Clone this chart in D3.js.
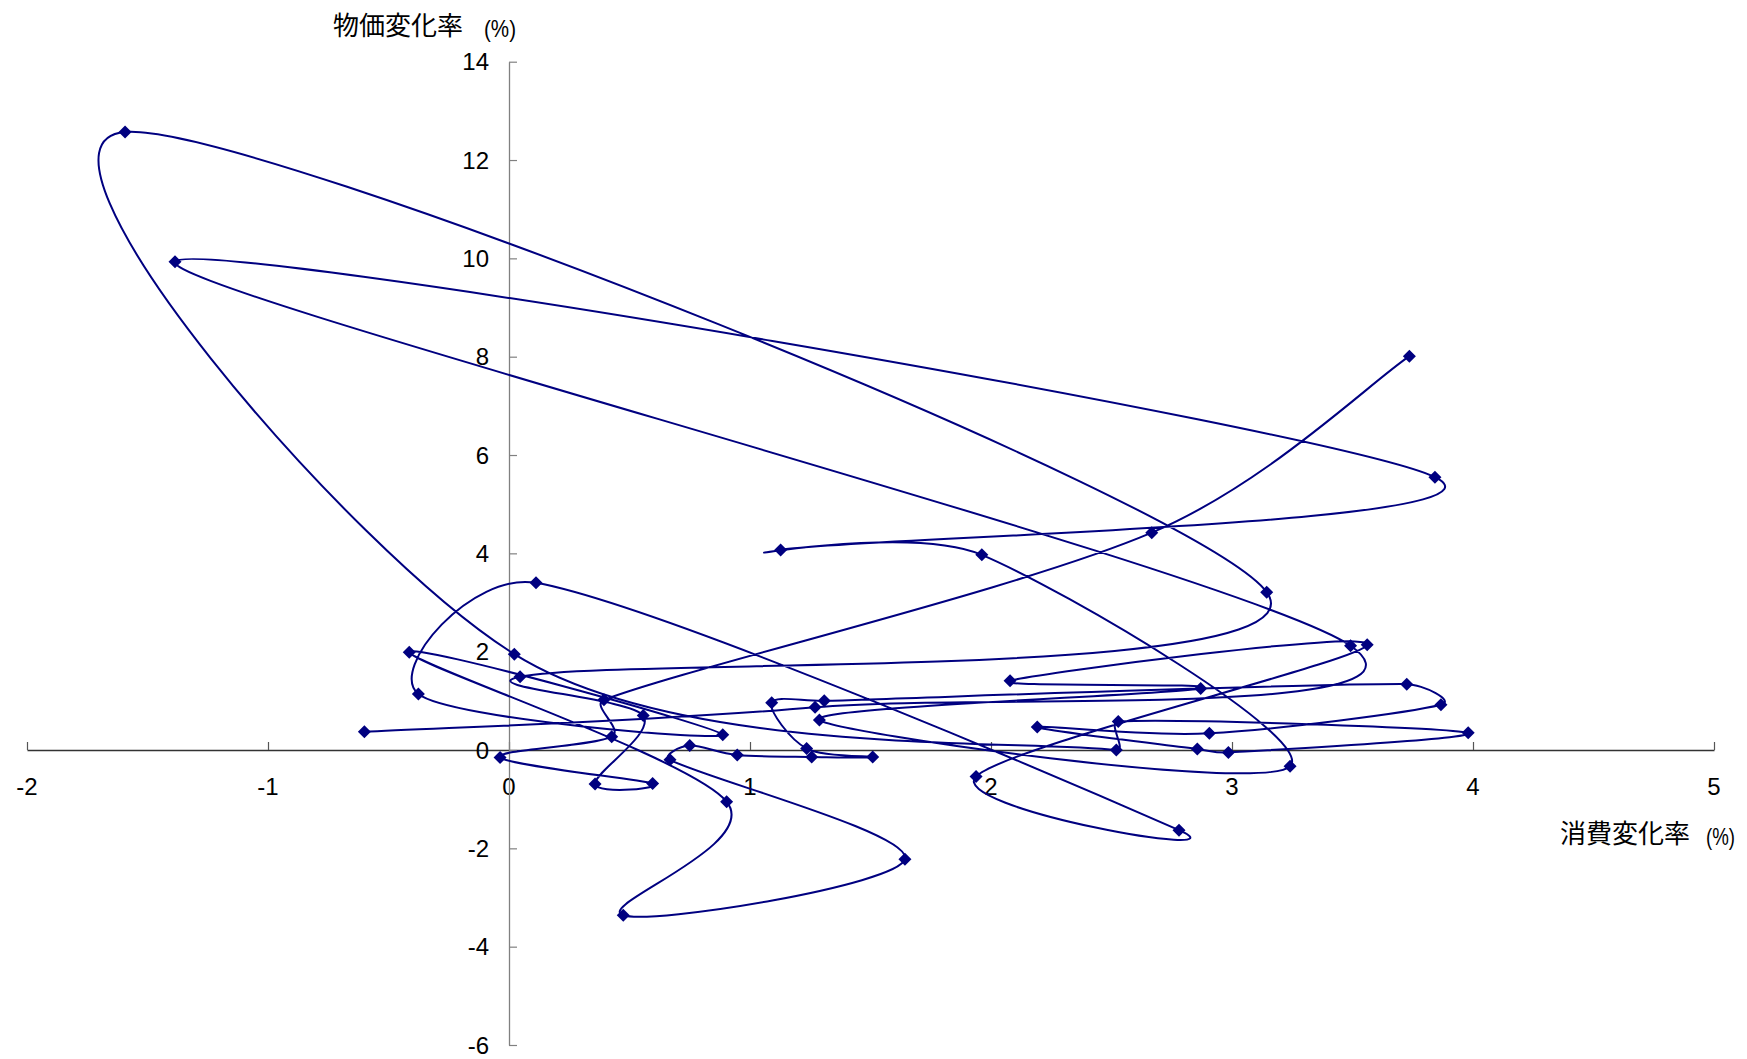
<!DOCTYPE html>
<html><head><meta charset="utf-8">
<script src="https://cdn.jsdelivr.net/npm/d3@7"></script>
<style>
body{margin:0;background:#fff}
svg{display:block}
.num{font-family:"Liberation Sans",Arial,sans-serif;font-size:24px;fill:#000}
.ttl{font-family:"Noto Sans CJK JP","Noto Sans CJK SC",sans-serif;font-size:26px;fill:#000}
.unit{font-family:"Liberation Sans",Arial,sans-serif;font-size:24px;fill:#000}
</style>
</head><body>
<svg id="c" width="1747" height="1059"></svg>
<script>
// consumption change rate (%) and price change rate (%), in path order
const consumption=[-0.600,1.270,3.492,-1.386,3.842,1.127,1.962,3.241,1.288,2.870,
2.079,3.561,1.938,2.780,0.112,-0.376,0.887,-0.414,0.903,0.474,
1.643,0.668,0.750,0.947,1.256,1.509,1.235,1.090,1.308,3.725,
3.867,2.906,2.192,2.856,2.985,3.980,2.528,2.520,0.022,-1.593,
3.144,0.046,0.557,0.357,0.596,-0.037,0.426,0.394,2.667,3.736];
const prices=[0.37,0.87,2.12,9.93,5.55,4.07,3.97,-0.33,0.61,1.25,
1.41,2.14,-0.54,-1.63,3.40,1.14,0.31,1.99,-1.05,-3.36,
-2.22,-0.20,0.09,-0.10,-0.14,-0.14,0.03,0.96,1.00,1.34,
0.92,0.34,0.47,0.02,-0.05,0.35,0.58,0.00,1.95,12.57,
3.21,1.49,0.70,-0.69,-0.68,-0.15,0.27,1.02,4.42,8.01];
const xTicks=[-2,-1,0,1,2,3,4,5];
const yTicks=[-6,-4,-2,0,2,4,6,8,10,12,14];
const xTitle="消費変化率", yTitle="物価変化率", unitLabel="(%)";

const svg=d3.select("#c");
const x=d3.scaleLinear().domain([-2,5]).range([27,1714]);
const y=d3.scaleLinear().domain([-6,14]).range([1045,61.7]);

// x axis (ticks upward)
const gx=svg.append("g").attr("transform",`translate(0,${y(0)})`)
  .call(d3.axisTop(x).tickValues(xTicks).tickSize(8).tickSizeOuter(0).tickFormat(""));
gx.select(".domain").attr("stroke","#333").attr("stroke-width",1.3);
gx.selectAll(".tick line").attr("stroke","#555").attr("stroke-width",1.2);
svg.append("g").selectAll("text").data(xTicks).join("text").attr("class","num")
  .attr("x",d=>x(d)).attr("y",y(0)+36).attr("text-anchor","middle").attr("dominant-baseline","central")
  .text(d=>d);

// y axis (ticks to the right)
const gy=svg.append("g").attr("transform",`translate(${x(0)},0)`)
  .call(d3.axisRight(y).tickValues(yTicks).tickSize(8).tickSizeOuter(0).tickFormat(""));
gy.select(".domain").attr("stroke","#808080").attr("stroke-width",1.3);
gy.selectAll(".tick line").attr("stroke","#808080").attr("stroke-width",1.2);
svg.append("g").selectAll("text").data(yTicks).join("text").attr("class","num")
  .attr("x",x(0)-20).attr("y",d=>y(d)).attr("text-anchor","end").attr("dominant-baseline","central")
  .text(d=>d);

// titles
svg.append("text").attr("class","ttl").attr("x",333).attr("y",35).text(yTitle);
svg.append("text").attr("class","unit").attr("x",484).attr("y",37)
  .attr("textLength",32).attr("lengthAdjust","spacingAndGlyphs").text(unitLabel);
svg.append("text").attr("class","ttl").attr("x",1560).attr("y",843).text(xTitle);
svg.append("text").attr("class","unit").attr("x",1706).attr("y",845)
  .attr("textLength",29).attr("lengthAdjust","spacingAndGlyphs").text(unitLabel);

// data: smoothed line (Catmull-Rom style Bezier with tangent limiting, like spreadsheet smoothing)
const pts=consumption.map((c,i)=>[c,prices[i]]);
const P=pts.map(d=>[x(d[0]),y(d[1])]);
const n=P.length, K=0.4;
const T=P.map((p,i)=>{const a=P[Math.max(0,i-1)], b=P[Math.min(n-1,i+1)];return [(b[0]-a[0])/6,(b[1]-a[1])/6];});
const lim=(v,m)=>{const L=Math.hypot(v[0],v[1]);return L>m&&L>0?[v[0]*m/L,v[1]*m/L]:v;};
const pth=d3.path();
pth.moveTo(P[0][0],P[0][1]);
for(let i=0;i<n-1;i++){
  const L=Math.hypot(P[i+1][0]-P[i][0],P[i+1][1]-P[i][1]);
  const t1=lim(T[i],K*L), t2=lim(T[i+1],K*L);
  pth.bezierCurveTo(P[i][0]+t1[0],P[i][1]+t1[1],P[i+1][0]-t2[0],P[i+1][1]-t2[1],P[i+1][0],P[i+1][1]);
}
svg.append("path").attr("d",pth.toString()).attr("fill","none")
  .attr("stroke","#000080").attr("stroke-width",2);
svg.append("g").selectAll("path").data(pts).join("path")
  .attr("d","M0,-6.5L6.5,0L0,6.5L-6.5,0Z").attr("fill","#000080")
  .attr("transform",d=>`translate(${x(d[0])},${y(d[1])})`);
</script>
</body></html>
